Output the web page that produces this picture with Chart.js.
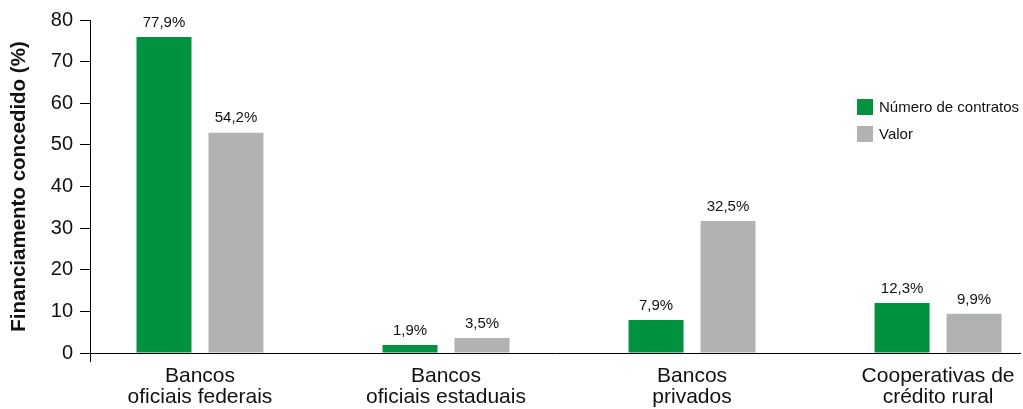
<!DOCTYPE html>
<html>
<head>
<meta charset="utf-8">
<script src="https://cdn.jsdelivr.net/npm/chart.js@4"></script>
<style>
  html, body { margin: 0; padding: 0; background: #fff; }
  #wrap { width: 1023px; height: 409px; position: relative; }
</style>
</head>
<body>
<div id="wrap"><canvas id="grafico"></canvas></div>
<script>
// categorias (duas linhas cada)
const categorias = [
  ["Bancos", "oficiais federais"],
  ["Bancos", "oficiais estaduais"],
  ["Bancos", "privados"],
  ["Cooperativas de", "crédito rural"],
];
// altura das barras como desenhadas
const contratos = [75.9, 1.9, 7.9, 12.0];
const valor = [52.9, 3.6, 31.7, 9.4];
// rótulos impressos acima das barras
const rotulosContratos = ["77,9%", "1,9%", "7,9%", "12,3%"];
const rotulosValor = ["54,2%", "3,5%", "32,5%", "9,9%"];

const VERDE = "rgb(0, 146, 63)";
const CINZA = "rgb(177, 178, 180)";
const FONTE = "'Liberation Sans', Arial, sans-serif";

const rotulos = [rotulosContratos, rotulosValor];

const pontos = (arr) => arr.map((v, i) => ({ x: i, y: v }));

const rotulosPlugin = {
  id: "rotulos",
  afterDatasetsDraw(chart) {
    const ctx = chart.ctx;
    ctx.save();
    ctx.fillStyle = "#111";
    ctx.font = "15px " + FONTE;
    ctx.textAlign = "center";
    ctx.textBaseline = "bottom";
    chart.data.datasets.forEach((ds, d) => {
      chart.getDatasetMeta(d).data.forEach((bar, i) => {
        ctx.fillText(rotulos[d][i], bar.x, bar.y - 7);
      });
    });
    ctx.restore();
  },
};

const eixosPlugin = {
  id: "eixos",
  afterDraw(chart) {
    const ctx = chart.ctx;
    const a = chart.chartArea;
    ctx.save();
    ctx.strokeStyle = "#000";
    ctx.lineWidth = 1;
    ctx.beginPath();
    ctx.moveTo(a.left + 0.5, a.bottom);
    ctx.lineTo(a.left + 0.5, a.bottom + 9);
    ctx.stroke();
    ctx.restore();
  },
};

const legendaPlugin = {
  id: "legenda",
  afterDraw(chart) {
    const ctx = chart.ctx;
    ctx.save();
    ctx.font = "15px " + FONTE;
    ctx.textBaseline = "middle";
    ctx.textAlign = "left";
    chart.data.datasets.forEach((ds, i) => {
      const y = 107 + i * 27;
      ctx.fillStyle = ds.backgroundColor;
      ctx.fillRect(857, y - 8, 16, 16);
      ctx.fillStyle = "#111";
      ctx.fillText(ds.label, 879, y + 1);
    });
    ctx.restore();
  },
};

new Chart(document.getElementById("grafico"), {
  type: "bar",
  data: {
    datasets: [
      {
        label: "Número de contratos",
        data: pontos(contratos),
        backgroundColor: VERDE,
        categoryPercentage: 0.585,
        barPercentage: 0.764,
      },
      {
        label: "Valor",
        data: pontos(valor),
        backgroundColor: CINZA,
        categoryPercentage: 0.585,
        barPercentage: 0.764,
      },
    ],
  },
  options: {
    responsive: true,
    maintainAspectRatio: false,
    animation: false,
    layout: { padding: { top: 20, right: 3, left: 0, bottom: 0 } },
    plugins: {
      legend: { display: false },
      tooltip: { enabled: false },
    },
    scales: {
      x: {
        type: "linear",
        offset: false,
        min: -0.447,
        max: 3.333,
        grid: { display: false, drawTicks: false, offset: false },
        border: { display: true, color: "#000", width: 1 },
        afterFit: (s) => {
          s.height = 56;
          s.paddingLeft = 0;
          s.paddingRight = 0;
        },
        ticks: {
          stepSize: 1,
          includeBounds: false,
          autoSkip: false,
          maxRotation: 0,
          padding: 13,
          color: "#111",
          font: { family: FONTE, size: 21, lineHeight: 1.0 },
          callback: (v) => categorias[v],
        },
      },
      y: {
        min: 0,
        max: 80,
        afterFit: (s) => { s.width = 90; },
        grid: {
          drawOnChartArea: false,
          drawTicks: true,
          tickLength: 10,
          color: "#000",
        },
        border: { display: true, color: "#000", width: 1 },
        ticks: {
          stepSize: 10,
          padding: 7,
          color: "#111",
          font: { family: FONTE, size: 20 },
        },
        title: {
          display: true,
          text: "Financiamento concedido (%)",
          color: "#111",
          padding: { top: 7, bottom: 2 },
          font: { family: FONTE, size: 20.5, weight: "bold" },
        },
      },
    },
  },
  plugins: [rotulosPlugin, eixosPlugin, legendaPlugin],
});
</script>
</body>
</html>
